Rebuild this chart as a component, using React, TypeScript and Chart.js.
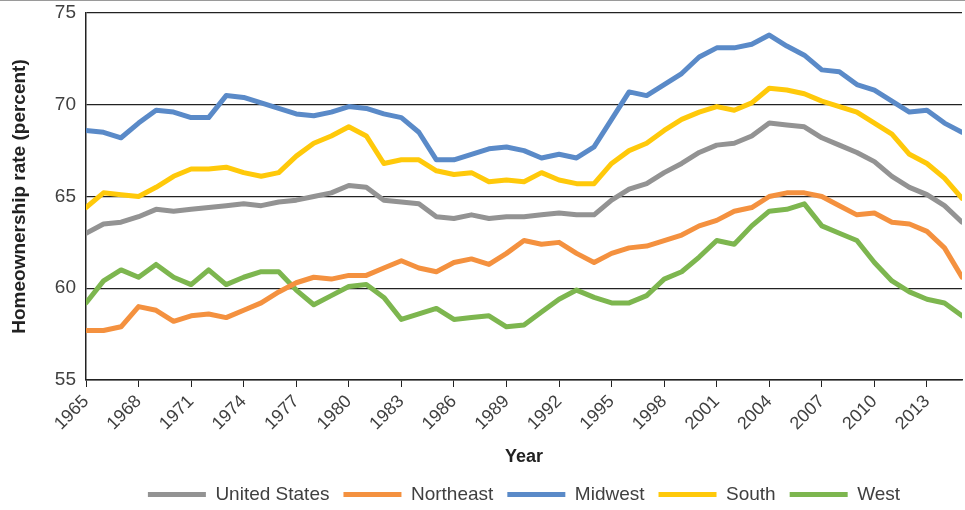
import React, { useEffect, useRef } from "react";
import { Chart, registerables } from "chart.js";

Chart.register(...registerables);

const years: number[] = Array.from({ length: 51 }, (_, i) => 1965 + i);

const unitedStates = [
  63.0, 63.5, 63.6, 63.9, 64.3, 64.2, 64.3, 64.4, 64.5, 64.6,
  64.5, 64.7, 64.8, 65.0, 65.2, 65.6, 65.5, 64.8, 64.7, 64.6,
  63.9, 63.8, 64.0, 63.8, 63.9, 63.9, 64.0, 64.1, 64.0, 64.0,
  64.8, 65.4, 65.7, 66.3, 66.8, 67.4, 67.8, 67.9, 68.3, 69.0,
  68.9, 68.8, 68.2, 67.8, 67.4, 66.9, 66.1, 65.5, 65.1, 64.5,
  63.6,
];
const northeast = [
  57.7, 57.7, 57.9, 59.0, 58.8, 58.2, 58.5, 58.6, 58.4, 58.8,
  59.2, 59.8, 60.3, 60.6, 60.5, 60.7, 60.7, 61.1, 61.5, 61.1,
  60.9, 61.4, 61.6, 61.3, 61.9, 62.6, 62.4, 62.5, 61.9, 61.4,
  61.9, 62.2, 62.3, 62.6, 62.9, 63.4, 63.7, 64.2, 64.4, 65.0,
  65.2, 65.2, 65.0, 64.5, 64.0, 64.1, 63.6, 63.5, 63.1, 62.2,
  60.6,
];
const midwest = [
  68.6, 68.5, 68.2, 69.0, 69.7, 69.6, 69.3, 69.3, 70.5, 70.4,
  70.1, 69.8, 69.5, 69.4, 69.6, 69.9, 69.8, 69.5, 69.3, 68.5,
  67.0, 67.0, 67.3, 67.6, 67.7, 67.5, 67.1, 67.3, 67.1, 67.7,
  69.2, 70.7, 70.5, 71.1, 71.7, 72.6, 73.1, 73.1, 73.3, 73.8,
  73.2, 72.7, 71.9, 71.8, 71.1, 70.8, 70.2, 69.6, 69.7, 69.0,
  68.5,
];
const south = [
  64.4, 65.2, 65.1, 65.0, 65.5, 66.1, 66.5, 66.5, 66.6, 66.3,
  66.1, 66.3, 67.2, 67.9, 68.3, 68.8, 68.3, 66.8, 67.0, 67.0,
  66.4, 66.2, 66.3, 65.8, 65.9, 65.8, 66.3, 65.9, 65.7, 65.7,
  66.8, 67.5, 67.9, 68.6, 69.2, 69.6, 69.9, 69.7, 70.1, 70.9,
  70.8, 70.6, 70.2, 69.9, 69.6, 69.0, 68.4, 67.3, 66.8, 66.0,
  64.9,
];
const west = [
  59.2, 60.4, 61.0, 60.6, 61.3, 60.6, 60.2, 61.0, 60.2, 60.6,
  60.9, 60.9, 59.9, 59.1, 59.6, 60.1, 60.2, 59.5, 58.3, 58.6,
  58.9, 58.3, 58.4, 58.5, 57.9, 58.0, 58.7, 59.4, 59.9, 59.5,
  59.2, 59.2, 59.6, 60.5, 60.9, 61.7, 62.6, 62.4, 63.4, 64.2,
  64.3, 64.6, 63.4, 63.0, 62.6, 61.4, 60.4, 59.8, 59.4, 59.2,
  58.5,
];

const seriesNames = ["United States", "Northeast", "Midwest", "South", "West"];
const seriesValues = [unitedStates, northeast, midwest, south, west];
const seriesColors = ["#939393", "#F4913F", "#5A8AC8", "#FFC90A", "#7DB64F"];

const yTicks = { min: 55, max: 75, step: 5 };
const xTicks = { min: 1965, max: 2015, step: 3 };

const FONT = "'Liberation Sans', Arial, Helvetica, sans-serif";

export default function App() {
  const canvasRef = useRef<HTMLCanvasElement | null>(null);

  useEffect(() => {
    if (!canvasRef.current) return;
    const datasets = seriesNames.map((name, i) => ({
      label: name,
      data: years.map((yr, j) => ({ x: yr, y: seriesValues[i][j] })),
      borderColor: seriesColors[i],
      backgroundColor: seriesColors[i],
      borderWidth: 5,
      pointRadius: 0,
      tension: 0,
      borderCapStyle: "round" as const,
      borderJoinStyle: "round" as const,
      fill: false,
    }));

    const chart = new Chart(canvasRef.current, {
      type: "line",
      data: { datasets },
      options: {
        animation: false,
        responsive: false,
        maintainAspectRatio: false,
        layout: { padding: { top: 13, right: 3, left: 0, bottom: -4 } },
        plugins: {
          tooltip: { enabled: false },
          legend: {
            position: "bottom",
            fullSize: false,
            labels: {
              usePointStyle: true,
              pointStyle: "line",
              pointStyleWidth: 58,
              boxHeight: 6,
              padding: 14,
              color: "#404040",
              font: { family: FONT, size: 19 },
            },
          },
        },
        scales: {
          x: {
            type: "linear",
            min: xTicks.min,
            max: xTicks.max,
            afterFit: (scale: any) => {
              scale.height = 91;
            },
            ticks: {
              stepSize: xTicks.step,
              includeBounds: false,
              autoSkip: false,
              minRotation: 45,
              maxRotation: 45,
              padding: 4,
              color: "#404040",
              font: { family: FONT, size: 18 },
              callback: (v: any) => String(v),
            },
            grid: {
              drawOnChartArea: false,
              drawTicks: true,
              tickLength: 7,
              tickColor: "#222",
              color: "#222",
            },
            border: { display: true, color: "#222", width: 1.5 },
            title: {
              display: true,
              text: "Year",
              color: "#222",
              font: { family: FONT, size: 18, weight: "bold" },
              padding: { top: 3, bottom: 3 },
            },
          },
          y: {
            min: yTicks.min,
            max: yTicks.max,
            afterFit: (scale: any) => {
              scale.width = 86;
              scale.paddingTop = 0;
              scale.paddingBottom = 0;
            },
            ticks: {
              stepSize: yTicks.step,
              padding: 10,
              color: "#404040",
              font: { family: FONT, size: 19 },
            },
            grid: {
              drawTicks: false,
              tickLength: 0,
              color: "#222",
              lineWidth: 1.2,
            },
            border: { display: true, color: "#222", width: 1.5 },
            title: {
              display: true,
              text: "Homeownership rate (percent)",
              color: "#222",
              font: { family: FONT, size: 19, weight: "bold" },
              padding: { top: 8, bottom: 0 },
            },
          },
        },
      },
    });
    return () => chart.destroy();
  }, []);

  return (
    <div style={{ position: "absolute", left: 0, top: 0, width: 965, height: 510, background: "#fff" }}>
      <div style={{ position: "absolute", left: 0, top: 0, width: 965, height: 0, borderTop: "1px solid #9a9a9a" }} />
      <canvas ref={canvasRef} width={965} height={510} style={{ display: "block" }} />
    </div>
  );
}
